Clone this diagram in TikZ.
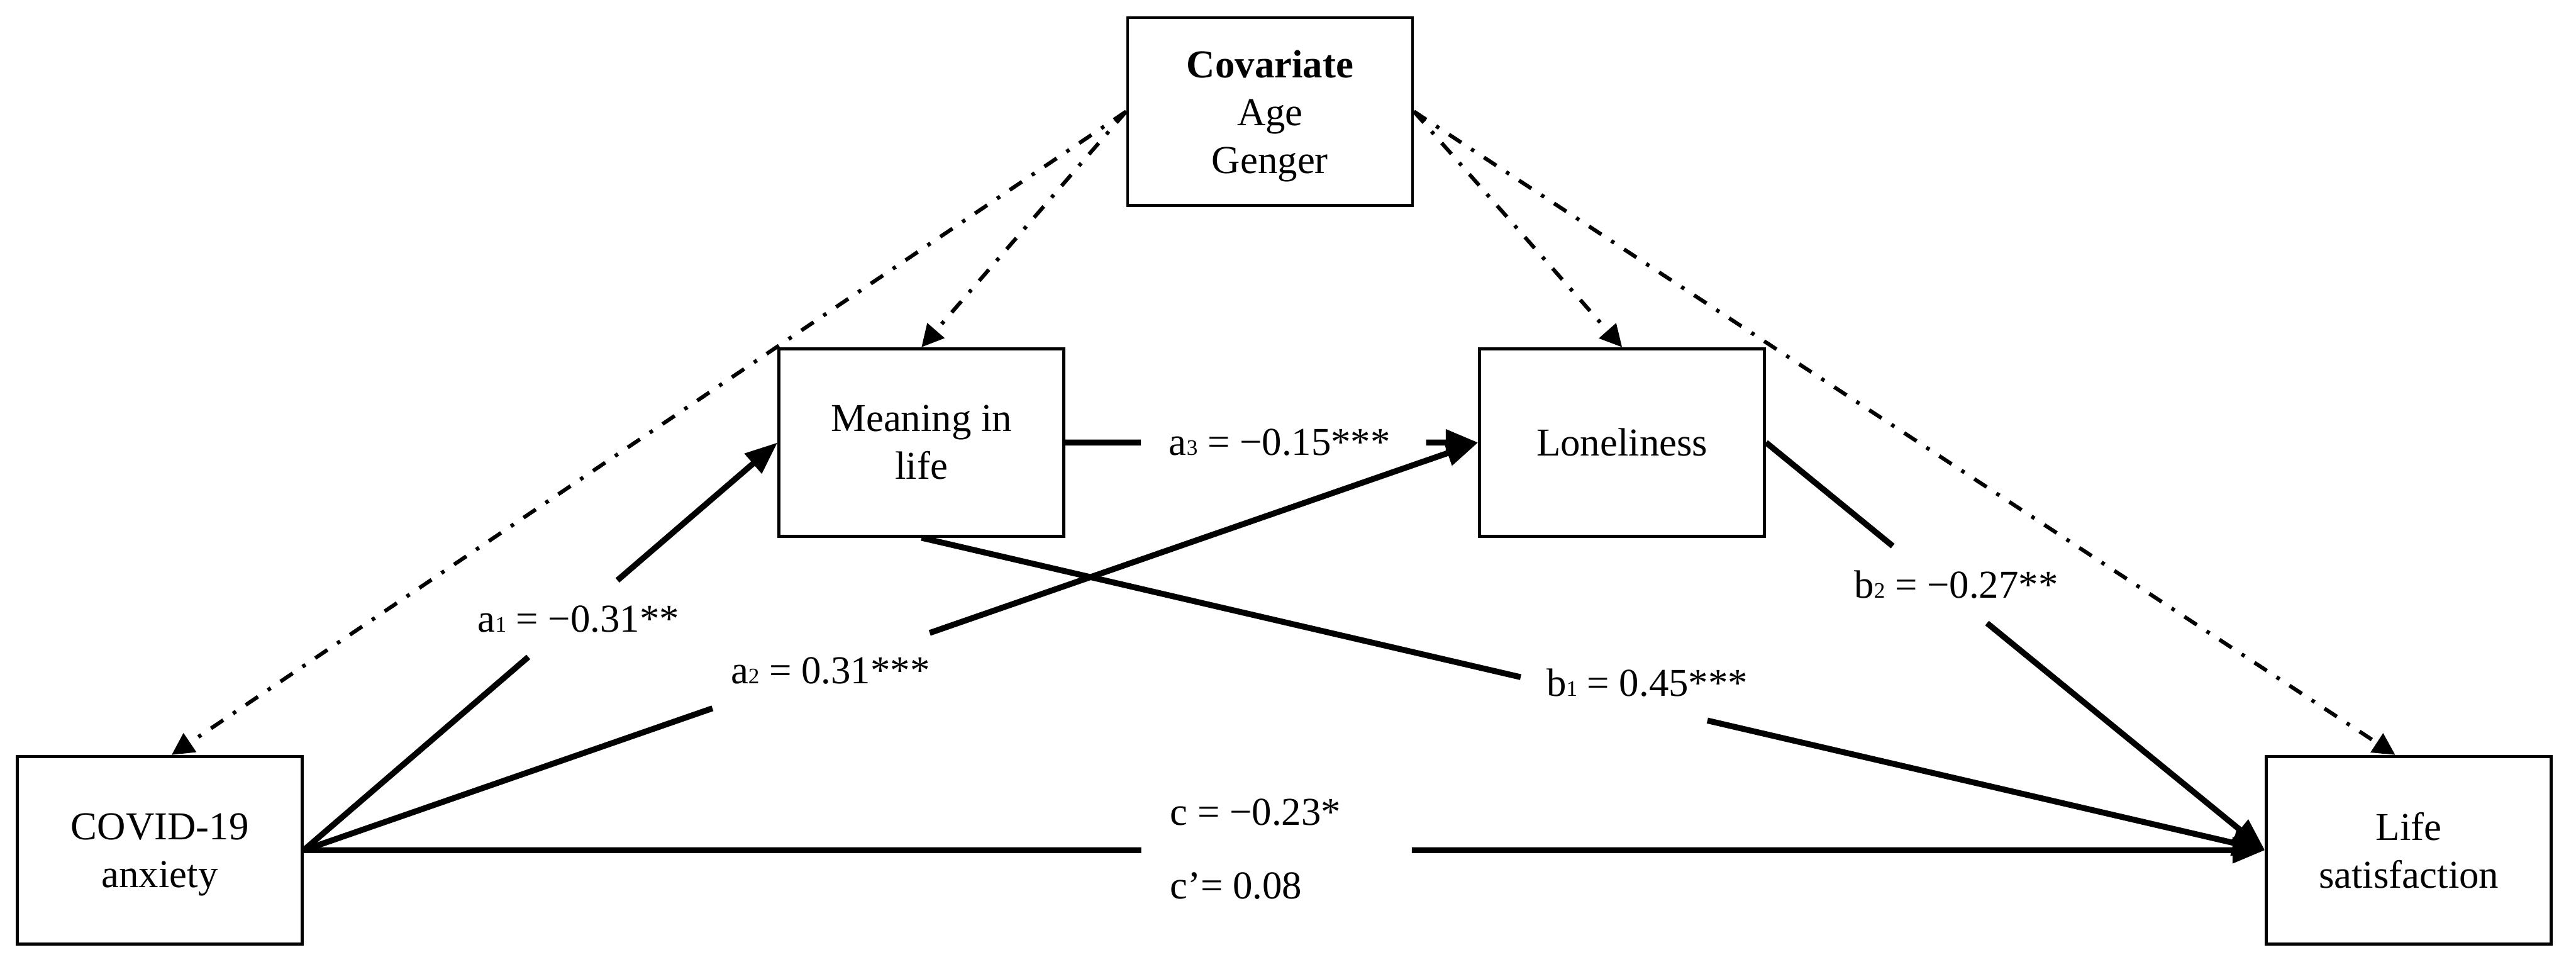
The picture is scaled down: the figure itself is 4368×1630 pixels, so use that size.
\documentclass[tikz,border=0pt]{standalone}
\usepackage{fontspec}
\setmainfont{Liberation Serif}
\usetikzlibrary{arrows.meta,calc}
\newcommand{\sbs}[1]{{\fontsize{7.5pt}{7.5pt}\selectfont #1}}
\newcommand{\nodp}[1]{\raisebox{0pt}[\height][0pt]{#1}}
\begin{document}
\begin{tikzpicture}[x=0.2pt,y=-0.2pt,
  box/.style={draw,line width=1pt,minimum width=96.6pt,minimum height=63.6pt,align=center,inner sep=0pt,font=\fontsize{13.4pt}{16.2pt}\selectfont},
  lab/.style={inner sep=0pt,font=\fontsize{13.4pt}{16.2pt}\selectfont},
  conn/.style={line width=2pt,-{Triangle[length=11pt,width=8.5pt]}},
  covar/.style={line width=1.3pt,dash pattern=on 5pt off 4pt on 1.2pt off 4pt,-{Triangle[length=7.5pt,width=7.5pt]}}]
\useasboundingbox (0,0) rectangle (4368,1630);
% boxes
\node[box] (cov) at (2153.5,189) {\textbf{Covariate}\\Age\\\nodp{Genger}};
\node[box] (mil) at (1562.5,750) {Meaning in\\life};
\node[box] (lon) at (2750.5,750) {Loneliness};
\node[box] (covid) at (271,1441) {COVID-19\\\nodp{anxiety}};
\node[box] (life) at (4084.5,1441) {Life\\satisfaction};
% labels
\node[lab] (la1) at (981,1049) {a\sbs{1} = −0.31**};
\node[lab] (la2) at (1408,1137) {a\sbs{2} = 0.31***};
\node[lab] (la3) at (2170,750) {a\sbs{3} = −0.15***};
\node[lab] (lb1) at (2793,1157) {b\sbs{1} = 0.45***};
\node[lab] (lb2) at (3317,991) {b\sbs{2} = −0.27**};
\node[lab,anchor=west] (lc) at (1983,1377) {c = −0.23*};
\node[lab,anchor=west] (lcp) at (1983,1502) {c’= 0.08};
% solid paths
\draw[conn] (covid.east) -- ($(covid.east)!0.474!(mil.west)$) ($(covid.east)!0.662!(mil.west)$) -- (mil.west);
\draw[conn] (covid.east) -- ($(covid.east)!0.348!(lon.west)$) ($(covid.east)!0.533!(lon.west)$) -- (lon.west);
\draw[conn] (mil.east) -- ($(mil.east)!0.183!(lon.west)$) ($(mil.east)!0.874!(lon.west)$) -- (lon.west);
\draw[conn] (mil.south) -- ($(mil.south)!0.446!(life.west)$) ($(mil.south)!0.585!(life.west)$) -- (life.west);
\draw[conn] (lon.east) -- ($(lon.east)!0.254!(life.west)$) ($(lon.east)!0.443!(life.west)$) -- (life.west);
\draw[conn] (covid.east) -- ($(covid.east)!0.427!(life.west)$) ($(covid.east)!0.565!(life.west)$) -- (life.west);
% covariate paths
\draw[covar] (cov.west) -- ([xshift=4pt]covid.north);
\draw[covar] (cov.west) -- (mil.north);
\draw[covar] (cov.east) -- (lon.north);
\draw[covar] (cov.east) -- ([xshift=-4.6pt]life.north);
\end{tikzpicture}
\end{document}
